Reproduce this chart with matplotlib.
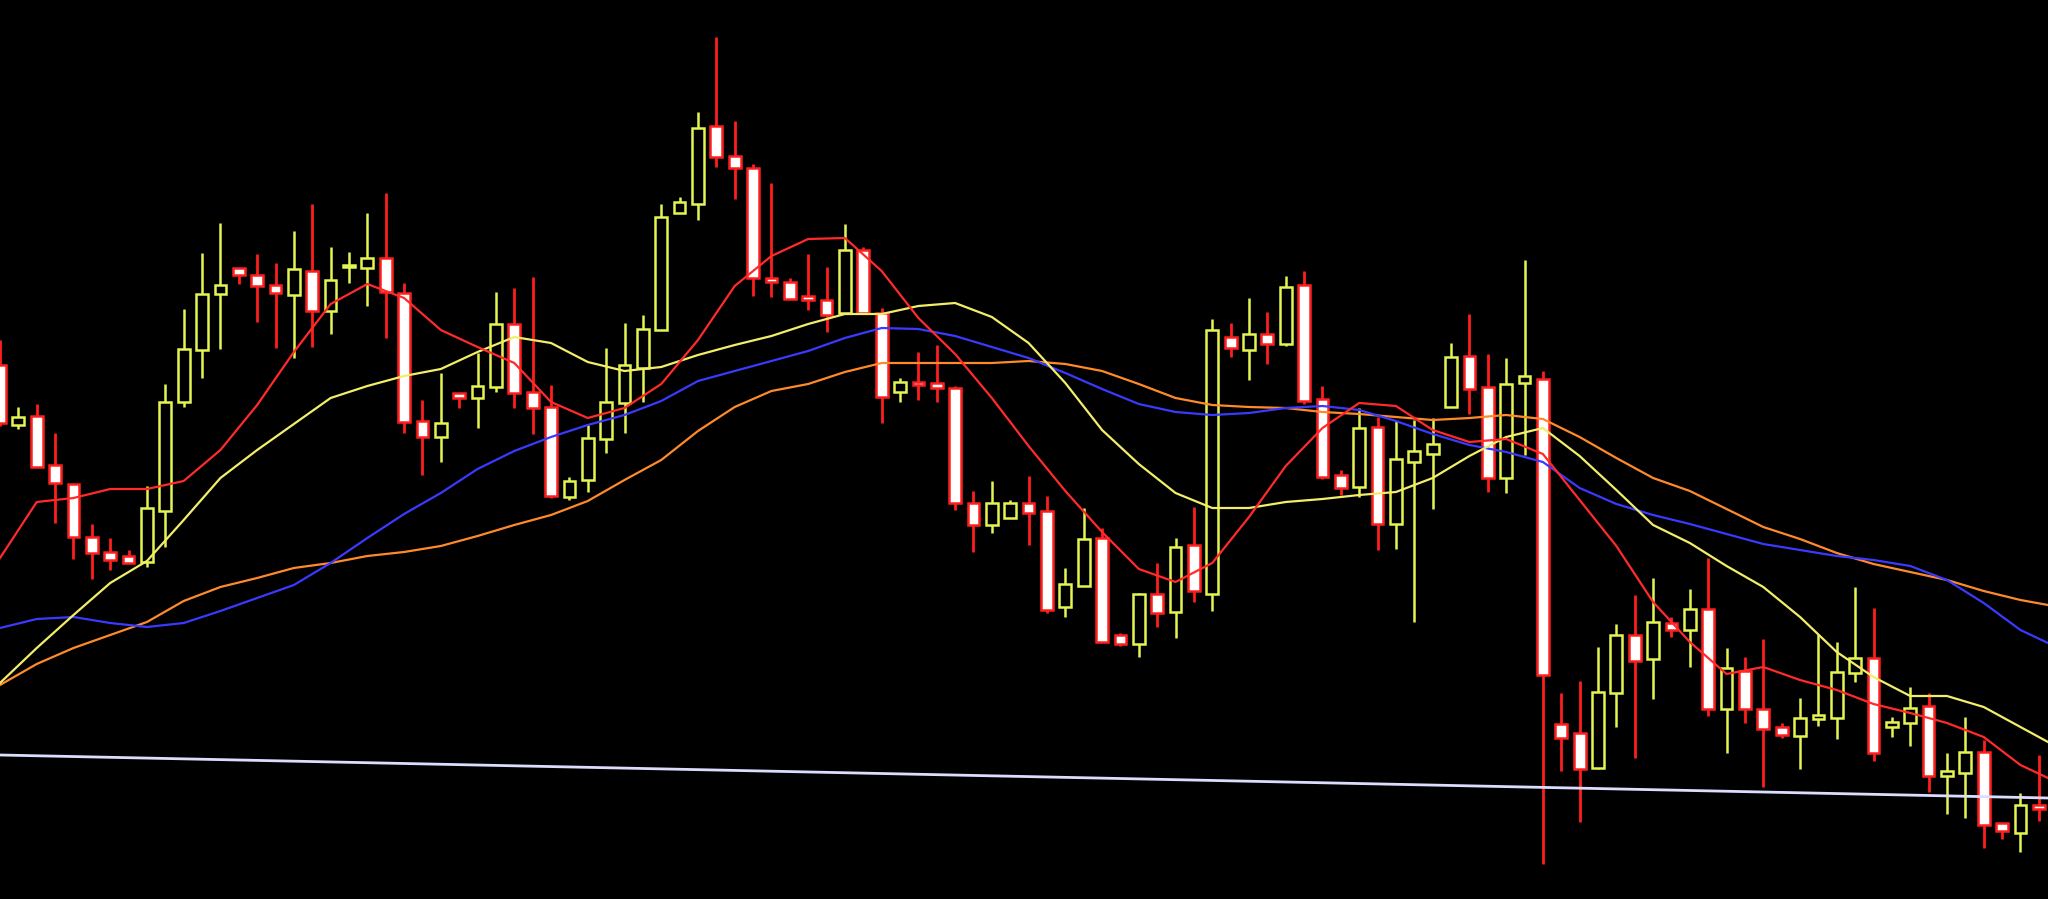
import matplotlib
matplotlib.use("Agg")
import matplotlib.pyplot as plt
import numpy as np

# daily OHLC (arbitrary price units)
opens = [6.35, 5.75, 5.84, 5.35, 5.16, 4.63, 4.48, 4.44, 4.38, 4.89,
         5.98, 6.50, 7.06, 7.32, 7.25, 7.15, 7.05, 7.29, 6.89, 7.33,
         7.32, 7.42, 7.07, 5.79, 5.63, 6.07, 6.02, 6.13, 6.76, 6.08,
         5.93, 5.03, 5.20, 5.61, 5.97, 6.32, 6.70, 7.87, 7.96, 8.74,
         8.44, 8.32, 7.22, 7.18, 7.04, 7.00, 6.87, 7.50, 6.87, 6.08,
         6.18, 6.17, 6.12, 4.97, 4.75, 4.82, 4.97, 4.89, 3.93, 4.14,
         4.62, 3.65, 3.56, 4.06, 3.88, 4.55, 4.06, 6.63, 6.50, 6.66,
         6.56, 7.15, 6.01, 5.25, 5.13, 5.73, 4.76, 5.38, 5.46, 5.93,
         6.44, 6.13, 5.22, 6.17, 6.21, 2.76, 2.67, 2.32, 3.07, 3.65,
         3.41, 3.77, 3.70, 3.91, 2.91, 3.29, 2.91, 2.73, 2.64, 2.81,
         2.82, 3.27, 3.42, 2.73, 2.77, 2.94, 2.24, 2.27, 2.48, 1.77,
         1.67, 1.95]
highs = [6.60, 5.93, 5.96, 5.67, 5.16, 4.76, 4.62, 4.50, 5.14, 6.16,
         6.91, 7.47, 7.77, 7.32, 7.46, 7.37, 7.69, 7.96, 7.53, 7.48,
         7.87, 8.07, 7.17, 6.00, 6.27, 6.07, 6.47, 7.08, 7.12, 7.23,
         6.15, 5.23, 5.75, 6.52, 6.77, 6.85, 7.96, 8.03, 8.88, 9.63,
         8.79, 8.36, 8.17, 7.22, 7.46, 7.33, 7.76, 7.53, 6.92, 6.22,
         6.48, 6.55, 6.14, 5.09, 5.19, 5.00, 5.24, 5.04, 4.32, 4.92,
         4.72, 3.67, 4.07, 4.37, 4.62, 4.93, 6.81, 6.77, 7.02, 6.88,
         7.24, 7.29, 6.14, 5.30, 5.92, 5.83, 5.79, 5.80, 5.82, 6.57,
         6.86, 6.46, 6.42, 7.40, 6.29, 3.07, 3.19, 3.53, 3.76, 4.05,
         4.22, 3.83, 4.11, 4.42, 3.52, 3.43, 3.61, 2.77, 3.02, 3.66,
         3.58, 4.13, 3.92, 2.83, 3.13, 3.07, 2.47, 2.83, 2.60, 1.77,
         2.07, 2.45]
lows = [5.74, 5.71, 5.33, 4.77, 4.41, 4.21, 4.30, 4.37, 4.33, 4.53,
        5.93, 6.22, 6.51, 7.16, 6.78, 6.52, 6.42, 6.53, 6.66, 7.17,
        6.94, 6.62, 5.67, 5.25, 5.38, 5.92, 5.72, 6.08, 5.92, 5.66,
        5.02, 5.00, 5.08, 5.47, 5.67, 5.98, 6.70, 7.87, 7.80, 8.33,
        8.01, 7.04, 7.03, 7.01, 6.90, 6.68, 6.87, 6.87, 5.77, 5.98,
        6.00, 5.98, 4.90, 4.48, 4.67, 4.82, 4.55, 3.87, 3.83, 4.14,
        3.58, 3.54, 3.43, 3.73, 3.62, 3.98, 3.89, 6.43, 6.20, 6.36,
        6.54, 5.96, 5.21, 5.05, 5.03, 4.50, 4.51, 3.78, 4.91, 5.93,
        5.86, 5.08, 5.07, 5.45, 1.36, 2.29, 1.78, 2.31, 2.73, 2.42,
        3.01, 3.63, 3.33, 2.84, 2.47, 2.77, 2.13, 2.62, 2.31, 2.74,
        2.61, 3.18, 2.39, 2.63, 2.54, 2.08, 1.86, 1.82, 1.52, 1.61,
        1.48, 1.79]
closes = [5.77, 5.83, 5.33, 5.17, 4.63, 4.47, 4.40, 4.37, 4.92, 5.98,
          6.51, 7.06, 7.15, 7.25, 7.14, 7.07, 7.31, 6.89, 7.20, 7.35,
          7.42, 7.08, 5.78, 5.63, 5.77, 6.02, 6.14, 6.76, 6.07, 5.92,
          5.04, 5.19, 5.62, 5.98, 6.35, 6.71, 7.83, 7.98, 8.72, 8.43,
          8.32, 7.22, 7.18, 7.01, 7.00, 6.85, 7.50, 6.87, 6.03, 6.18,
          6.15, 6.12, 4.97, 4.75, 4.97, 4.97, 4.87, 3.90, 4.16, 4.61,
          3.58, 3.56, 4.06, 3.87, 4.53, 4.09, 6.70, 6.52, 6.66, 6.56,
          7.13, 5.99, 5.23, 5.12, 5.72, 4.76, 5.41, 5.49, 5.56, 6.43,
          6.11, 5.22, 6.16, 6.24, 3.25, 2.62, 2.31, 3.08, 3.65, 3.39,
          3.78, 3.70, 3.91, 2.91, 3.32, 2.91, 2.71, 2.65, 2.82, 2.85,
          3.28, 3.42, 2.47, 2.78, 2.92, 2.24, 2.29, 2.48, 1.75, 1.69,
          1.95, 1.91]

# moving averages, read every second bar (last point = right edge)
ma_pos = list(range(0, 112, 2)) + [111.5]
ma5 = [4.42, 4.98, 5.02, 5.11, 5.11, 5.19, 5.50, 5.95, 6.48, 6.96,
       7.16, 7.02, 6.70, 6.53, 6.37, 5.98, 5.82, 5.92, 6.16, 6.60,
       7.14, 7.44, 7.61, 7.62, 7.29, 6.82, 6.46, 6.02, 5.54, 5.09,
       4.68, 4.31, 4.18, 4.37, 4.83, 5.34, 5.72, 5.97, 5.94, 5.70,
       5.58, 5.61, 5.46, 5.00, 4.54, 3.98, 3.58, 3.26, 3.33, 3.20,
       3.10, 2.96, 2.87, 2.77, 2.63, 2.35, 2.22]
ma10 = [3.17, 3.52, 3.85, 4.17, 4.39, 4.80, 5.22, 5.50, 5.76, 6.02,
        6.14, 6.24, 6.31, 6.48, 6.63, 6.57, 6.38, 6.29, 6.33, 6.45,
        6.55, 6.64, 6.76, 6.86, 6.86, 6.94, 6.97, 6.83, 6.57, 6.17,
        5.70, 5.36, 5.07, 4.92, 4.92, 4.98, 5.01, 5.05, 5.08, 5.22,
        5.44, 5.63, 5.72, 5.44, 5.10, 4.75, 4.57, 4.34, 4.13, 3.83,
        3.48, 3.23, 3.04, 3.04, 2.93, 2.73, 2.58]
ma20 = [3.15, 3.36, 3.52, 3.65, 3.78, 3.99, 4.13, 4.22, 4.32, 4.37,
        4.44, 4.48, 4.54, 4.64, 4.75, 4.85, 4.99, 5.20, 5.40, 5.69,
        5.93, 6.09, 6.16, 6.28, 6.37, 6.37, 6.37, 6.37, 6.39, 6.36,
        6.29, 6.16, 6.02, 5.95, 5.93, 5.92, 5.88, 5.86, 5.83, 5.80,
        5.82, 5.85, 5.81, 5.63, 5.42, 5.22, 5.09, 4.91, 4.73, 4.61,
        4.47, 4.36, 4.28, 4.20, 4.09, 4.00, 3.95]
ma30 = [3.72, 3.81, 3.83, 3.77, 3.73, 3.77, 3.89, 4.02, 4.15, 4.37,
        4.62, 4.86, 5.07, 5.31, 5.49, 5.63, 5.75, 5.85, 5.99, 6.19,
        6.29, 6.39, 6.49, 6.62, 6.72, 6.71, 6.64, 6.53, 6.42, 6.27,
        6.11, 5.96, 5.88, 5.85, 5.87, 5.92, 5.94, 5.90, 5.79, 5.66,
        5.55, 5.48, 5.38, 5.12, 4.96, 4.85, 4.76, 4.66, 4.56, 4.50,
        4.44, 4.40, 4.34, 4.20, 3.97, 3.70, 3.57]

# hand drawn support line
trend_pos = [0, 111.5]
trend_val = [2.45, 2.02]

RED = "#ff1e1e"
YEL = "#e4f552"

fig = plt.figure(figsize=(20.48, 8.99), dpi=100, facecolor="black")
ax = fig.add_axes([0, 0, 1, 1])
ax.set_facecolor("black")
ax.set_axis_off()

o = np.array(opens)
h = np.array(highs)
l = np.array(lows)
c = np.array(closes)
x = np.arange(len(o))
up = c >= o

# wicks then bodies (bodies hide the wick inside)
ax.vlines(x[up], l[up], h[up], colors=YEL, lw=1.8, zorder=2)
ax.vlines(x[~up], l[~up], h[~up], colors=RED, lw=2.0, zorder=2)
ax.bar(x[up], c[up] - o[up], bottom=o[up], width=0.64,
       color="black", edgecolor=YEL, linewidth=1.8, zorder=3)
ax.bar(x[~up], o[~up] - c[~up], bottom=c[~up], width=0.64,
       color="white", edgecolor=RED, linewidth=1.8, zorder=3)

ax.plot(ma_pos, ma20, color="#ff8a2a", lw=1.6, zorder=4)
ax.plot(ma_pos, ma30, color="#3a3aff", lw=1.6, zorder=4)
ax.plot(ma_pos, ma10, color="#f2ee6a", lw=1.6, zorder=4)
ax.plot(ma_pos, ma5, color="#ff2a2a", lw=1.6, zorder=4)
ax.plot(trend_pos, trend_val, color="#dcdcff", lw=2.0, zorder=4)

ax.set_xlim(0, 111.5)
ax.set_ylim(1.01, 10.0)

fig.savefig("out.png", dpi=100, facecolor="black")
